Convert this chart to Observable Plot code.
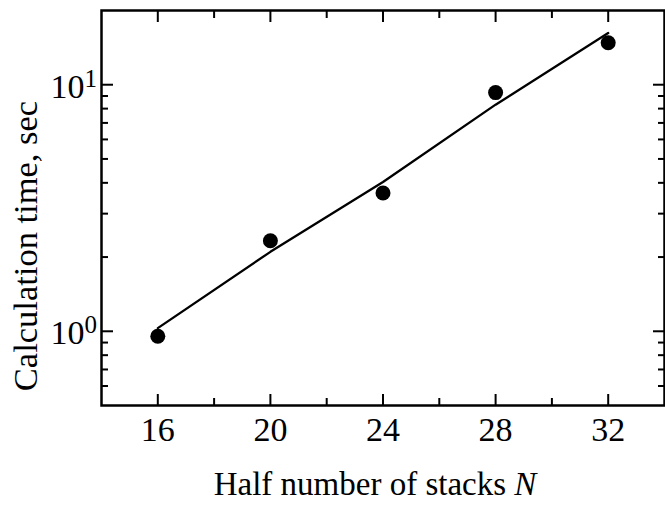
<!DOCTYPE html>
<html><head><meta charset="utf-8">
<script src="https://cdn.jsdelivr.net/npm/d3@7"></script>
<script src="https://cdn.jsdelivr.net/npm/@observablehq/plot@0.6"></script>
<style>body{margin:0;background:#fff;} svg{display:block}</style>
</head><body><div id="chart"></div>
<script>
const stacksN = [16, 20, 24, 28, 32];
const calcTime = [0.955, 2.33, 3.64, 9.29, 14.8];
const fitN = [16, 20, 24, 28, 32];
const fitTime = [1.03, 2.10, 4.03, 8.30, 16.2];
const xMajorTicks = [16, 20, 24, 28, 32];
const xMinorTicks = [18, 22, 26, 30];
const yMajorTicks = [1, 10];
const yMajorExp = ["0", "1"];
const yMinorTicks = [0.6, 0.7, 0.8, 0.9, 2, 3, 4, 5, 6, 7, 8, 9];
const xLabel = "Half number of stacks ";
const xLabelVar = "N";
const yLabel = "Calculation time, sec";

const font = "Liberation Serif";
const points = stacksN.map((n, i) => ({n, t: calcTime[i]}));
const fit = fitN.map((n, i) => ({n, t: fitTime[i]}));
const yMaj = yMajorTicks.map((v, i) => ({v, e: yMajorExp[i]}));

const tk = {strokeWidth: 2, fill: "none", label: null};

const chart = Plot.plot({
  width: 665, height: 508,
  marginLeft: 101, marginRight: 1, marginTop: 10, marginBottom: 103,
  style: {fontFamily: font, background: "#fff", color: "#000"},
  x: {type: "linear", domain: [14, 34]},
  y: {type: "log", domain: [0.5, 20]},
  marks: [
    Plot.axisX(xMajorTicks, {anchor: "bottom", tickSize: -11, ...tk}),
    Plot.axisX(xMinorTicks, {anchor: "bottom", tickSize: -7, ...tk}),
    Plot.axisX(xMajorTicks, {anchor: "top", tickSize: -11, ...tk}),
    Plot.axisX(xMinorTicks, {anchor: "top", tickSize: -7, ...tk}),
    Plot.axisX(xMajorTicks, {anchor: "bottom", tickSize: 0, tickPadding: 11, fontSize: 34, fontFamily: font, fontVariant: "normal", label: null, tickFormat: d => String(d)}),
    Plot.axisY(yMajorTicks, {anchor: "left", tickSize: -12, ...tk}),
    Plot.axisY(yMinorTicks, {anchor: "left", tickSize: -7, ...tk}),
    Plot.axisY(yMajorTicks, {anchor: "right", tickSize: -12, ...tk}),
    Plot.axisY(yMinorTicks, {anchor: "right", tickSize: -7, ...tk}),
    Plot.text(yMaj, {y: "v", frameAnchor: "left", text: () => "10", textAnchor: "end", dx: -17, dy: 2, fontSize: 34, fontFamily: font}),
    Plot.text(yMaj, {y: "v", frameAnchor: "left", text: "e", textAnchor: "start", dx: -17, dy: -6, fontSize: 25, fontFamily: font}),
    Plot.line(fit, {x: "n", y: "t", stroke: "#000", strokeWidth: 2.3}),
    Plot.dot(points, {x: "n", y: "t", r: 7.5, fill: "#000", stroke: "none"}),
    Plot.frame({stroke: "#000", strokeWidth: 2.5})
  ]
});

const svg = d3.select(chart);
const xl = svg.append("text")
  .attr("x", 375).attr("y", 495)
  .attr("text-anchor", "middle")
  .attr("font-family", font).attr("font-size", 33).attr("fill", "#000");
xl.append("tspan").text(xLabel);
xl.append("tspan").attr("font-style", "italic").text(xLabelVar);
svg.append("text")
  .attr("transform", "translate(37,246) rotate(-90)")
  .attr("text-anchor", "middle")
  .attr("font-family", font).attr("font-size", 34.5).attr("fill", "#000")
  .text(yLabel);

document.getElementById("chart").appendChild(chart);
</script>
</body></html>
